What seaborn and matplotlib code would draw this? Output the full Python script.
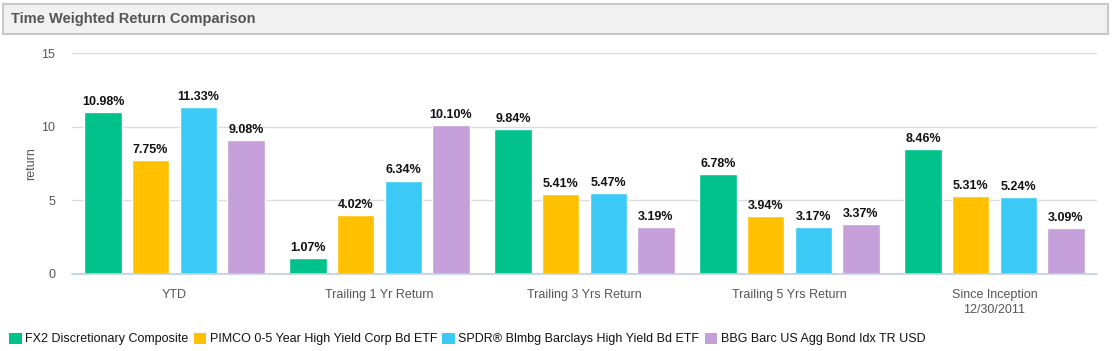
import pandas as pd
import matplotlib
matplotlib.use("Agg")
import matplotlib.pyplot as plt
from matplotlib.patches import Rectangle
import seaborn as sns

# data
periods = ["YTD", "Trailing 1 Yr Return", "Trailing 3 Yrs Return",
           "Trailing 5 Yrs Return", "Since Inception\n12/30/2011"]
series = ["FX2 Discretionary Composite", "PIMCO 0-5 Year High Yield Corp Bd ETF",
          "SPDR\u00ae Blmbg Barclays High Yield Bd ETF", "BBG Barc US Agg Bond Idx TR USD"]
fx2 = [10.98, 1.07, 9.84, 6.78, 8.46]
pimco = [7.75, 4.02, 5.41, 3.94, 5.31]
spdr = [11.33, 6.34, 5.47, 3.17, 5.24]
bbg = [9.08, 10.10, 3.19, 3.37, 3.09]
colors = ["#00C28A", "#FFC000", "#3BC9F5", "#C49FD9"]

rows = []
for name, vals in zip(series, [fx2, pimco, spdr, bbg]):
    for p, v in zip(periods, vals):
        rows.append({"period": p, "series": name, "value": v})
df = pd.DataFrame(rows)

sns.set_style("white")
plt.rcParams['font.family'] = ['Liberation Sans', 'DejaVu Sans']

W, H = 1113, 351
fig = plt.figure(figsize=(W / 100, H / 100), dpi=100)

# title bar
fig.patches.append(Rectangle((3 / W, 1 - 34 / H), 1105 / W, 30 / H, transform=fig.transFigure,
                             facecolor="#f1f1f1", edgecolor="#c8c8c8", linewidth=1.5))
fig.text(11 / W, 1 - 19 / H, "Time Weighted Return Comparison", fontsize=10.5,
         fontweight="bold", color="#555555", va="center", ha="left")

ax = fig.add_axes([72 / W, 1 - 274 / H, 1025 / W, 221 / H])
sns.barplot(data=df, x="period", y="value", hue="series", palette=colors,
            width=0.93, gap=0.22, saturation=1, ax=ax, legend=False)

for c in ax.containers:
    ax.bar_label(c, fmt="%.2f%%", padding=3, fontsize=9, fontweight="bold", color="#111111")

ax.set_xlim(-0.5, 4.5)
ax.set_ylim(0, 15)
ax.set_yticks([0, 5, 10, 15])
ax.yaxis.grid(True, color="#dcdcdc", linewidth=1)
ax.set_axisbelow(True)
for s in ["top", "right", "left"]:
    ax.spines[s].set_visible(False)
ax.spines["bottom"].set_color("#c0cfe0")
ax.spines["bottom"].set_linewidth(1.2)
ax.tick_params(axis="y", length=0, labelsize=9, labelcolor="#555555", pad=12)
ax.tick_params(axis="x", which="major", length=0, labelsize=9, labelcolor="#555555", pad=11)
for lbl in ax.get_xticklabels():
    lbl.set_linespacing(1.35)
ax.set_xticks([-0.5, 0.5, 1.5, 2.5, 3.5, 4.5], minor=True)
ax.tick_params(axis="x", which="minor", length=11, width=1.2, color="#c0cfe0", direction="out")
ax.set_xlabel("")
ax.set_ylabel("return", fontsize=9, color="#555555", labelpad=3)

handles = [Rectangle((0, 0), 1, 1, facecolor=c, edgecolor="none") for c in colors]
fig.legend(handles, series, loc="center left", bbox_to_anchor=(4 / W, 1 - 339 / H), ncol=4,
           frameon=False, fontsize=9, handlelength=1.0, handleheight=1.0, handletextpad=0.3,
           columnspacing=0.4, borderaxespad=0, labelcolor="#111111")

fig.savefig("out.png", dpi=100)
